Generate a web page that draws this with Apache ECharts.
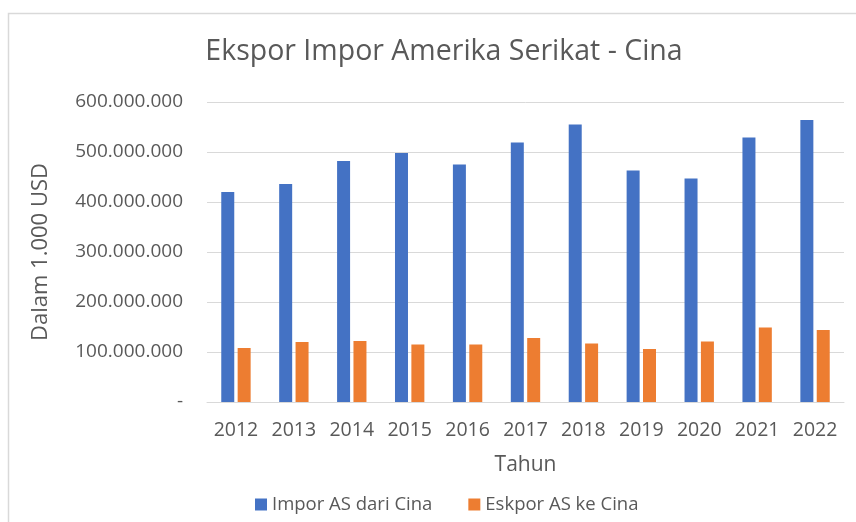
<!DOCTYPE html>
<html>
<head>
<meta charset="utf-8">
<script src="https://cdn.jsdelivr.net/npm/echarts@6/dist/echarts.min.js"></script>
<style>
  html, body { margin: 0; padding: 0; background: #fff; }
  #chart { width: 856px; height: 522px; }
</style>
</head>
<body>
<div id="chart"></div>
<script>
// data (in 1.000 USD)
const years = ['2012', '2013', '2014', '2015', '2016', '2017', '2018', '2019', '2020', '2021', '2022']
const imporValues = [420000000, 436000000, 482000000, 498000000, 475000000, 519000000, 555000000, 463000000, 447000000, 529000000, 564000000]
const eksporValues = [108000000, 120000000, 122000000, 115000000, 115000000, 128000000, 117000000, 106000000, 121000000, 149000000, 144000000]
const seriesNames = ['Impor AS dari Cina', 'Eskpor AS ke Cina']

const textColor = '#595959'
const gridColor = '#d9d9d9'
const font = '"Open Sans", "Noto Sans", sans-serif'

function fmt(v) {
  if (v === 0) return '-'
  return String(v).replace(/\B(?=(\d{3})+(?!\d))/g, '.')
}

const chart = echarts.init(document.getElementById('chart'), null, { renderer: 'canvas' })

chart.setOption({
  backgroundColor: '#fff',
  animation: false,
  textStyle: { fontFamily: font },
  graphic: [{
    type: 'rect',
    shape: { x: 8.5, y: 13.5, width: 900, height: 600 },
    style: { fill: 'none', stroke: gridColor, lineWidth: 1.5 },
    silent: true
  }],
  title: {
    text: 'Ekspor Impor Amerika Serikat - Cina',
    left: 439, top: 32, textAlign: 'center',
    textStyle: { color: textColor, fontSize: 28.5, fontWeight: 'normal', fontFamily: font }
  },
  legend: {
    data: seriesNames,
    left: 250, top: 490,
    itemWidth: 12, itemHeight: 12, itemGap: 36,
    icon: 'rect',
    textStyle: { color: textColor, fontSize: 18.5, fontFamily: font }
  },
  grid: { left: 207, right: 12, top: 102, bottom: 120 },
  xAxis: {
    type: 'category',
    data: years,
    name: 'Tahun',
    nameLocation: 'middle',
    nameGap: 53,
    nameTextStyle: { color: textColor, fontSize: 21, fontFamily: font },
    axisLine: { lineStyle: { color: gridColor, width: 1 } },
    axisTick: { show: false },
    axisLabel: { color: textColor, fontSize: 19.5, margin: 18, interval: 0, fontFamily: font }
  },
  yAxis: {
    type: 'value',
    min: 0, max: 600000000, interval: 100000000,
    name: 'Dalam 1.000 USD',
    nameLocation: 'middle',
    nameGap: 155,
    nameTextStyle: { color: textColor, fontSize: 22, fontFamily: font },
    axisLine: { show: false },
    axisTick: { show: false },
    splitLine: { lineStyle: { color: gridColor, width: 1 } },
    axisLabel: { color: textColor, fontSize: 19, margin: 24, fontFamily: font, formatter: fmt }
  },
  series: [
    {
      name: seriesNames[0], type: 'bar', data: imporValues,
      barWidth: 13, barGap: '26%',
      itemStyle: { color: '#4472C4' }
    },
    {
      name: seriesNames[1], type: 'bar', data: eksporValues,
      barWidth: 13,
      itemStyle: { color: '#ED7D31' }
    }
  ]
})
</script>
</body>
</html>
